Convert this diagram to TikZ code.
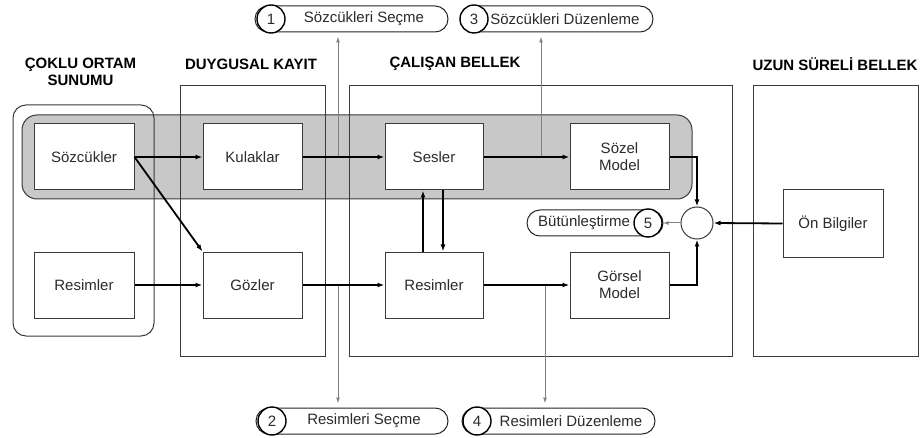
\documentclass[tikz,border=0pt]{standalone}
\usepackage{fontspec}
\setmainfont{Liberation Sans}
\usetikzlibrary{arrows.meta,calc}
\definecolor{boxc}{HTML}{3A3A3A}
\definecolor{grayc}{HTML}{808080}
\definecolor{bandc}{HTML}{C8C8C8}
\definecolor{txtc}{HTML}{2B2B2B}
\begin{document}
\begin{tikzpicture}[x=1pt,y=-1pt,
  font=\fontsize{15}{17}\selectfont,
  box/.style={draw=boxc, line width=1pt, fill=white, minimum width=99pt, minimum height=66pt, inner sep=0pt, align=center, text=txtc},
  region/.style={draw=boxc, line width=1pt, inner sep=0pt},
  title/.style={font=\fontsize{15}{17}\selectfont\bfseries, align=center, text=black, inner sep=0pt},
  arr/.style={draw=black, line width=1.8pt, -{Latex[length=7pt,width=5pt]}},
  garr/.style={draw=grayc, line width=1pt, -{Latex[length=6pt,width=4pt]}, shorten >=4pt},
  pill/.style={draw=black!85, line width=1pt, rounded corners=13pt, minimum height=26pt, inner sep=0pt, fill=white},
  num/.style={circle, draw=black, line width=1.4pt, fill=white, minimum size=28pt, inner sep=0pt, text=txtc},
  ptext/.style={text=txtc, inner sep=0pt},
]
\useasboundingbox (0,0) rectangle (920,438);

% gray band
\node[fill=bandc, draw=boxc, line width=1pt, rounded corners=15pt, minimum width=670pt, minimum height=84pt, inner sep=0pt] (band) at (357,157) {};

% regions
\node[region, rounded corners=13pt, minimum width=141pt, minimum height=231pt] (rco) at (83.5,220.5) {};
\node[region, minimum width=145pt, minimum height=270pt] (rdk) at (252.5,221) {};
\node[region, minimum width=383pt, minimum height=270pt] (rcb) at (540.5,221) {};
\node[region, minimum width=165pt, minimum height=270pt] (rus) at (835.5,221) {};

% titles
\node[title] (tco) at (80.5,72) {ÇOKLU ORTAM\\SUNUMU};
\node[title] (tdk) at (251,64) {DUYGUSAL KAYIT};
\node[title] (tcb) at (455,64) {ÇALIŞAN BELLEK};
\node[title] (tus) at (835,64) {UZUN SÜRELİ BELLEK};

% boxes
\node[box, minimum width=100pt] (szk) at (84,157) {Sözcükler};
\node[box] (kul) at (252.5,157) {Kulaklar};
\node[box, minimum width=98pt] (ses) at (434,157) {Sesler};
\node[box] (sozel) at (619.5,157) {Sözel\\Model};
\node[box, minimum width=100pt] (resL) at (84,285) {Resimler};
\node[box] (goz) at (252.5,285) {Gözler};
\node[box, minimum width=98pt] (resM) at (434,285) {Resimler};
\node[box] (gorsel) at (619.5,285) {Görsel\\Model};
\node[box, minimum width=100pt, minimum height=67pt] (on) at (833,223.5) {Ön Bilgiler};
\node[circle, draw=boxc, line width=1pt, fill=white, minimum size=32pt, inner sep=0pt] (ent) at (697,223) {};

% pills
\node[pill, minimum width=193pt] (p1) at (351.5,19) {};
\node[num] (n1) at (271,19) {1};
\node[ptext] (t1) at (364,19) {Sözcükleri Seçme};

\node[pill, minimum width=191pt] (p3) at (557.5,19) {};
\node[num] (n3) at (474,19) {3};
\node[ptext] (t3) at (565,19) {Sözcükleri Düzenleme};

\node[pill, minimum width=192pt] (p2) at (352,421) {};
\node[num] (n2) at (272,421) {2};
\node[ptext] (t2) at (364,421) {Resimleri Seçme};

\node[pill, minimum width=193pt] (p4) at (558.5,421) {};
\node[num] (n4) at (477,421) {4};
\node[ptext] (t4) at (571,421) {Resimleri Düzenleme};

\node[pill, minimum width=136pt] (p5) at (595,223) {};
\node[num] (n5) at (648,223) {5};
\node[ptext] (t5) at (584,223) {Bütünleştirme};

% junctions
\coordinate (j1) at (338,157);
\coordinate (j3) at (541,157);
\coordinate (j2) at (338,285);
\coordinate (j4) at (545,285);

% gray arrows
\draw[garr] (j1) -- (j1 |- p1.south);
\draw[garr] (j3) -- (j3 |- p3.south);
\draw[garr] (j2) -- (j2 |- p2.north);
\draw[garr] (j4) -- (j4 |- p4.north);
\draw[garr, shorten >=0pt] (ent.west) -- (n5.east);

% main arrows
\draw[arr] (szk.east) -- (kul.west);
\draw[arr] (kul.east) -- (ses.west);
\draw[arr] (ses.east) -- (sozel.west);
\draw[arr] (szk.east) -- (goz.north west);
\draw[arr] (resL.east) -- (goz.west);
\draw[arr] (goz.east) -- (resM.west);
\draw[arr] (resM.east) -- (gorsel.west);
\draw[arr] ([xshift=-11pt]resM.north) -- ([xshift=-11pt]ses.south);
\draw[arr] ([xshift=9pt]ses.south) -- ([xshift=9pt]resM.north);
\draw[arr] (sozel.east) -| (ent.north);
\draw[arr] (gorsel.east) -| (ent.south);
\draw[arr] (on.west) -- (ent.east);
\end{tikzpicture}
\end{document}
